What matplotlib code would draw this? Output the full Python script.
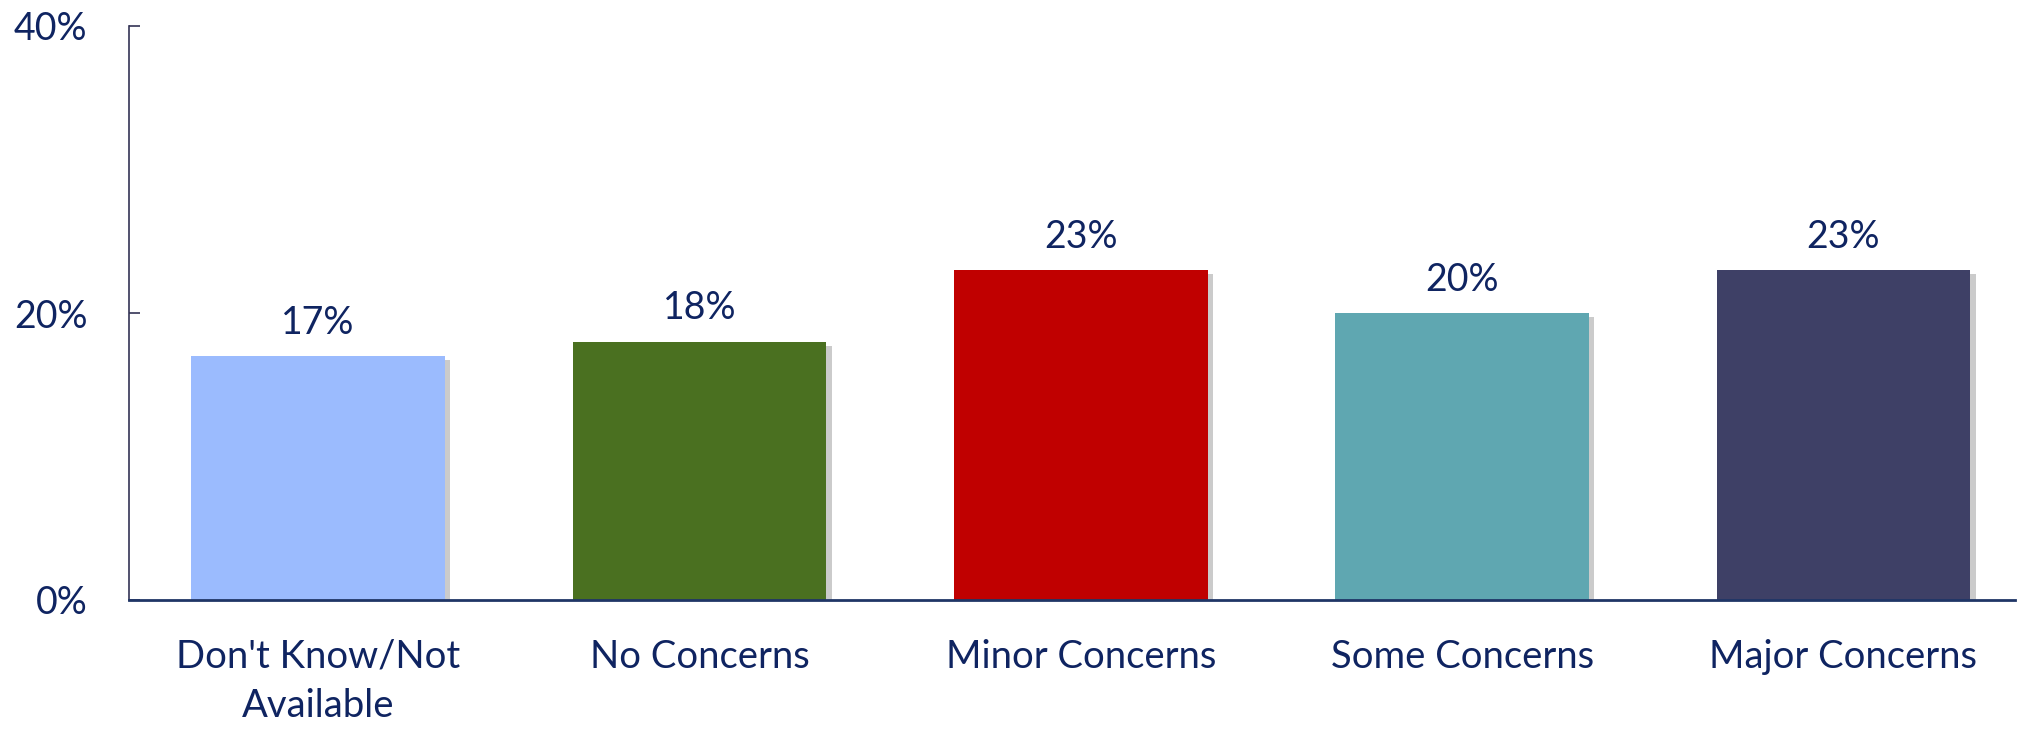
import matplotlib
matplotlib.use('Agg')
import matplotlib.pyplot as plt
import matplotlib.patheffects as pe

categories = ["Don't Know/Not\nAvailable", 'No Concerns', 'Minor Concerns',
              'Some Concerns', 'Major Concerns']
values = [17, 18, 23, 20, 23]
colors = ['#9BBBFE', '#4A7020', '#C00000', '#5FA7B1', '#3E4066']
yticks = [0, 20, 40]

navy = '#0F2461'
plt.rcParams['font.family'] = ['Lato', 'DejaVu Sans']

fig = plt.figure(figsize=(20.19, 7.32), dpi=100)
ax = fig.add_axes([129 / 2019, 1 - 600 / 732, (2015 - 129) / 2019, (600 - 26) / 732])

x = range(len(values))
bars = ax.bar(x, values, width=0.665, color=colors, zorder=3)
for b in bars:
    b.set_path_effects([pe.SimplePatchShadow(offset=(4, -3), shadow_rgbFace='#999999', alpha=0.5),
                        pe.Normal()])

for xi, v in zip(x, values):
    ax.annotate(f'{v}%', (xi, v), xytext=(0, 11), textcoords='offset points',
                ha='center', va='bottom', fontsize=27, color=navy)

ax.set_xlim(-0.496, 4.45)
ax.set_ylim(0, 40)
ax.set_yticks(yticks)
ax.set_yticklabels([f'{t}%' for t in yticks], fontsize=27, color=navy)
ax.set_xticks(list(x))
ax.set_xticklabels(categories, fontsize=27.5, color=navy, linespacing=1.45)
ax.tick_params(axis='x', length=0, pad=28)
ax.tick_params(axis='y', direction='in', length=8, width=1.2, color='#333355', pad=30)

for s in ['top', 'right']:
    ax.spines[s].set_visible(False)
ax.spines['left'].set_color('#333355')
ax.spines['left'].set_linewidth(1.2)
ax.spines['bottom'].set_color('#1F3566')
ax.spines['bottom'].set_linewidth(2)
ax.spines['bottom'].set_zorder(4)

fig.savefig('out.png', dpi=100)
